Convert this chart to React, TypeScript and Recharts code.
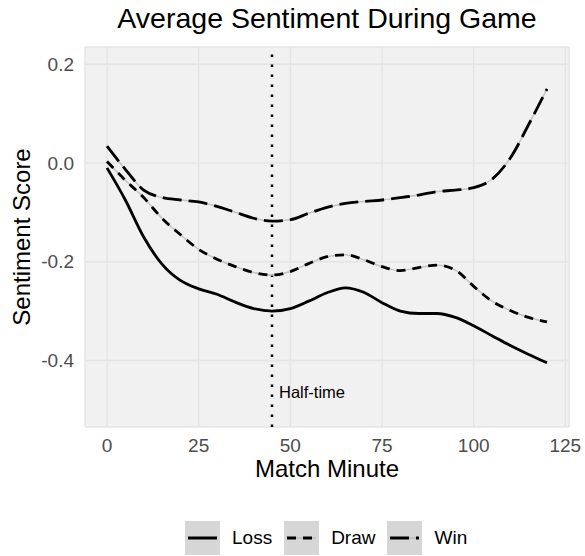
import React from 'react';
import { LineChart, Line, XAxis, YAxis, CartesianGrid, ReferenceLine } from 'recharts';

const minutes = [0, 5, 10, 15, 20, 25, 30, 35, 40, 45, 50, 55, 60, 65, 70, 75, 80, 85, 90, 95, 100, 105, 110, 115, 120];
const lossScores = [-0.01, -0.075, -0.15, -0.205, -0.238, -0.255, -0.266, -0.282, -0.295, -0.3, -0.295, -0.28, -0.263, -0.253, -0.262, -0.283, -0.3, -0.305, -0.305, -0.313, -0.33, -0.35, -0.37, -0.388, -0.405];
const drawScores = [0.003, -0.035, -0.07, -0.112, -0.145, -0.175, -0.195, -0.21, -0.222, -0.227, -0.22, -0.204, -0.19, -0.186, -0.196, -0.21, -0.218, -0.212, -0.207, -0.217, -0.25, -0.28, -0.299, -0.313, -0.322];
const winScores = [0.034, -0.013, -0.055, -0.07, -0.075, -0.079, -0.088, -0.1, -0.112, -0.118, -0.115, -0.102, -0.09, -0.082, -0.078, -0.075, -0.07, -0.065, -0.058, -0.055, -0.05, -0.033, 0.01, 0.078, 0.15];

const xTicks = [0, 25, 50, 75, 100, 125];
const yTicks = [-0.4, -0.2, 0, 0.2];
const halfTime = 45;

const seriesNames = ['Loss', 'Draw', 'Win'];

const data = minutes.map((m, i) => ({
  minute: m,
  loss: lossScores[i],
  draw: drawScores[i],
  win: winScores[i],
}));

const FONT = '"Liberation Sans", Arial, Helvetica, sans-serif';

const YTitle = (props: any) => {
  const vb = props.viewBox || { x: 0, y: 47, width: 85, height: 380 };
  const cx = vb.x + 30;
  const cy = vb.y + vb.height / 2;
  return (
    <text x={cx} y={cy} textAnchor="middle" transform={`rotate(-90, ${cx}, ${cy})`} fontSize={24} fill="#000" fontFamily={FONT}>
      Sentiment Score
    </text>
  );
};

const XTitle = (props: any) => {
  const vb = props.viewBox || { x: 85, y: 427, width: 484, height: 129 };
  return (
    <text x={vb.x + vb.width / 2} y={vb.y + 50} textAnchor="middle" fontSize={24} fill="#000" fontFamily={FONT}>
      Match Minute
    </text>
  );
};

const HalfLabel = (props: any) => {
  const vb = props.viewBox || { x: 272, y: 47, width: 0, height: 380 };
  return (
    <text x={vb.x + 7} y={vb.y + vb.height - 29} fontSize={16.5} fill="#000" fontFamily={FONT}>
      Half-time
    </text>
  );
};

const keyStyles = [
  { dash: undefined as string | undefined, under: false },
  { dash: '9 7', under: true },
  { dash: '19 7', under: true },
];

const LegendKey = ({ idx }: { idx: number }) => {
  const k = keyStyles[idx];
  return (
    <svg width={35} height={34} style={{ display: 'block' }}>
      <rect x={0} y={0} width={35} height={34} fill="#D6D6D6" />
      {k.under && <line x1={3} x2={32} y1={17} y2={17} stroke="#BDBDBD" strokeWidth={1.5} />}
      <line x1={3} x2={32} y1={17} y2={17} stroke="#000" strokeWidth={3} strokeDasharray={k.dash} />
    </svg>
  );
};

export default function App() {
  return (
    <div style={{ position: 'absolute', left: 0, top: 0, width: 585, height: 556, background: '#fff', fontFamily: FONT }}>
      <div style={{ position: 'absolute', left: 85, top: 4, width: 484, textAlign: 'center', fontSize: 28.5, lineHeight: '28px', color: '#000', whiteSpace: 'nowrap' }}>
        Average Sentiment During Game
      </div>
      <LineChart width={585} height={556} data={data} margin={{ top: 47, right: 16, bottom: 0, left: 0 }}>
        <CartesianGrid fill="#F1F1F1" stroke="#E4E4E4" strokeWidth={1.5} />
        <XAxis
          dataKey="minute"
          type="number"
          domain={[-6, 126]}
          ticks={xTicks}
          tickLine={false}
          axisLine={false}
          tickMargin={6}
          height={129}
          tick={{ fontSize: 19, fill: '#4D4D4D', fontFamily: FONT }}
          label={<XTitle />}
        />
        <YAxis
          type="number"
          domain={[-0.535, 0.235]}
          ticks={yTicks}
          tickFormatter={(v: number) => v.toFixed(1)}
          tickLine={false}
          axisLine={false}
          tickMargin={5}
          width={85}
          tick={{ fontSize: 19, fill: '#4D4D4D', fontFamily: FONT }}
          label={<YTitle />}
        />
        <ReferenceLine x={halfTime} stroke="#000" strokeWidth={2.5} strokeDasharray="2.5 7.5" label={<HalfLabel />} />
        <Line type="monotone" dataKey="draw" stroke="#C4C4C4" strokeWidth={1.5} dot={false} activeDot={false} isAnimationActive={false} legendType="none" />
        <Line type="monotone" dataKey="win" stroke="#C4C4C4" strokeWidth={1.5} dot={false} activeDot={false} isAnimationActive={false} legendType="none" />
        <Line type="monotone" dataKey="loss" name={seriesNames[0]} stroke="#000" strokeWidth={2.8} dot={false} activeDot={false} isAnimationActive={false} />
        <Line type="monotone" dataKey="draw" name={seriesNames[1]} stroke="#000" strokeWidth={2.8} strokeDasharray="9 7" dot={false} activeDot={false} isAnimationActive={false} />
        <Line type="monotone" dataKey="win" name={seriesNames[2]} stroke="#000" strokeWidth={2.8} strokeDasharray="19 7" dot={false} activeDot={false} isAnimationActive={false} />
      </LineChart>
      <div style={{ position: 'absolute', left: 185, top: 521, height: 34, display: 'flex', alignItems: 'center', fontSize: 19, color: '#000' }}>
        {seriesNames.map((n, i) => (
          <div key={n} style={{ display: 'flex', alignItems: 'center', marginRight: i < 2 ? 12 : 0 }}>
            <LegendKey idx={i} />
            <span style={{ marginLeft: 12 }}>{n}</span>
          </div>
        ))}
      </div>
    </div>
  );
}
